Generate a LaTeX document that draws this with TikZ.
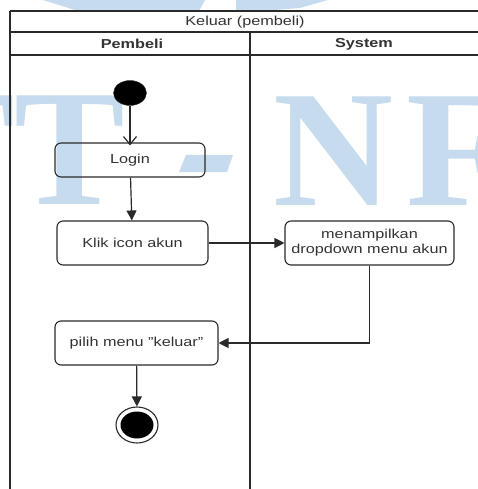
\documentclass[tikz,border=0pt]{standalone}
\usepackage{fontspec}
\setmainfont{Liberation Sans}[FakeStretch=1.25]
\newfontfamily\wmfont{Liberation Serif}
\usetikzlibrary{arrows.meta,shapes.geometric}
\definecolor{wm}{HTML}{C6DCEE}
\definecolor{ln}{HTML}{2A2A2A}
\definecolor{tx}{HTML}{333333}
\tikzset{
  act/.style={draw=ln,line width=1.1pt,rounded corners=6pt,align=center,text=tx,
    font=\fontsize{13}{15}\selectfont,inner sep=0pt},
  lane/.style={draw=ln,line width=1.1pt},
  flow/.style={draw=ln,line width=1.2pt,-{Triangle[length=10pt,width=10pt]}},
  openflow/.style={draw=ln,line width=1.2pt,-{Straight Barb[length=8pt,width=13pt]}},
  hdr/.style={text=tx,inner sep=0pt},
  wmtext/.style={text=wm,inner sep=0pt,font=\wmfont\bfseries\fontsize{166}{166}\selectfont}
}
\begin{document}
\begin{tikzpicture}[x=1pt,y=-1pt]
\useasboundingbox (0,0) rectangle (478,489);
\clip (0,0) rectangle (478,489);
\fill[white] (0,0) rectangle (478,489);
% watermark
\node[wmtext,anchor=base west] (wmT) at (-96,204) {TT};
\node[wmtext,anchor=base west] (wmN) at (273,205) {N};
\node[wmtext,anchor=base west] (wmF) at (406,205) {F};
\fill[wm] (186,155) -- (233,155) -- (227,172) -- (179,172) -- cycle;
\fill[wm] (43,0) -- (205,0) -- (199,11) -- (78,11) -- cycle;
\fill[wm] (236,0) -- (328,0) -- (300,8) -- (262,11) -- (236,11) -- cycle;
% swimlane frame
\draw[lane] (10,11) -- (482,11);
\draw[lane] (10,32) -- (482,32);
\draw[lane] (10,55) -- (482,55);
\draw[lane] (10,11) -- (10,495);
\draw[lane] (250,32) -- (250,495);
\node[hdr,font=\fontsize{13}{15}\selectfont] (title) at (245,22) {Keluar (pembeli)};
\node[hdr,font=\bfseries\fontsize{13}{15}\selectfont] (lanea) at (132,44) {Pembeli};
\node[hdr,font=\bfseries\fontsize{13}{15}\selectfont] (laneb) at (364,44) {System};
% nodes
\node[ellipse,fill=black,draw=ln,minimum width=33pt,minimum height=25pt,inner sep=0pt] (start) at (130,93) {};
\node[act,minimum width=150pt,minimum height=34pt] (login) at (130,160) {Login};
\node[act,minimum width=151pt,minimum height=44pt] (klik) at (132.5,243) {Klik icon akun};
\node[act,minimum width=169pt,minimum height=44pt] (menu) at (369.5,243) {menampilkan\\dropdown menu akun};
\node[act,minimum width=163pt,minimum height=44pt] (pilih) at (136.5,343) {pilih menu "keluar"};
\node[ellipse,draw=ln,line width=1.1pt,minimum width=42pt,minimum height=36pt,inner sep=0pt] (fin) at (137,425) {};
\node[ellipse,fill=black,minimum width=33pt,minimum height=27pt,inner sep=0pt] (finin) at (137,425) {};
% connectors
\draw[openflow] (start) -- ([yshift=-3pt]login.north);
\draw[flow] (login) -- (klik);
\draw[flow] (klik) -- (menu);
\draw[flow] (menu.south) |- (pilih.east);
\draw[flow] (pilih) -- (fin);
\end{tikzpicture}
\end{document}
